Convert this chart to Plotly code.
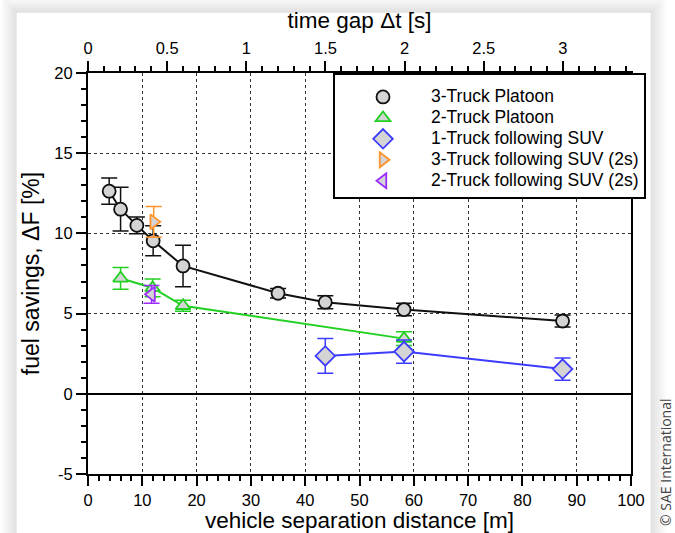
import plotly.graph_objects as go

# ---------------- data ----------------
# 3-Truck Platoon
dist_3truck = [3.9, 6.0, 9.0, 12.0, 17.5, 35.0, 43.7, 58.2, 87.4]
fuel_3truck = [12.63, 11.51, 10.50, 9.54, 7.97, 6.27, 5.71, 5.25, 4.54]
err_3truck = [0.82, 1.36, 0.52, 0.93, 1.29, 0.30, 0.40, 0.39, 0.38]

# 2-Truck Platoon
dist_2truck = [6.0, 11.9, 17.5, 58.2]
fuel_2truck = [7.20, 6.60, 5.49, 3.44]
err_2truck = [0.68, 0.55, 0.35, 0.43]

# 1-Truck following SUV
dist_1suv = [43.7, 58.2, 87.4]
fuel_1suv = [2.36, 2.63, 1.54]
err_1suv = [1.08, 0.73, 0.69]

# 3-Truck following SUV (2s)
dist_3suv = [12.1]
fuel_3suv = [10.72]
err_3suv = [0.96]

# 2-Truck following SUV (2s)
dist_2suv = [11.7]
fuel_2suv = [6.20]
err_2suv = [0.55]

series_names = [
    "3-Truck Platoon",
    "2-Truck Platoon",
    "1-Truck following SUV",
    "3-Truck following SUV (2s)",
    "2-Truck following SUV (2s)",
]

# axis ranges and tick labels
dist_range = [0, 100]
time_range = [0, 3.43]
fuel_range = [-5, 20]
fuel_tickvals = [-5, 0, 5, 10, 15, 20]
fuel_ticktext = ["-5", "0", "5", "10", "15", "20"]

# ---------------- style ----------------
FILL = "#d4d4d4"
BLACK = "#111111"
GREEN = "#22d022"
BLUE = "#3c3cff"
ORANGE = "#ff9228"
PURPLE = "#9a2cff"
FONT = "Liberation Sans, Arial, sans-serif"

W, H = 675, 533
ML, MR, MT, MB = 88, 44, 73, 59
PW, PH = W - ML - MR, H - MT - MB


def px_x(px):
    return (px - ML) / PW


def px_y(py):
    return (H - MB - py) / PH


fig = go.Figure()


def add_series(x, y, e, name, symbol, color, size, line=True):
    if line:
        fig.add_trace(go.Scatter(
            x=x, y=y, mode="lines", line=dict(color=color, width=2),
            showlegend=False, hoverinfo="skip"))
    fig.add_trace(go.Scatter(
        x=x, y=y, mode="markers", name=name,
        marker=dict(symbol=symbol, size=size, color=FILL,
                    line=dict(color=color, width=1.8)),
        error_y=dict(type="data", array=e, visible=True, color=color,
                     thickness=1.5, width=8),
    ))


add_series(dist_3truck, fuel_3truck, err_3truck, series_names[0], "circle", BLACK, 13)
add_series(dist_2truck, fuel_2truck, err_2truck, series_names[1], "triangle-up", GREEN, 13)
add_series(dist_1suv, fuel_1suv, err_1suv, series_names[2], "diamond", BLUE, 15)
add_series(dist_3suv, fuel_3suv, err_3suv, series_names[3], "triangle-right", ORANGE, 13, line=False)
add_series(dist_2suv, fuel_2suv, err_2suv, series_names[4], "triangle-left", PURPLE, 13, line=False)

# larger legend glyphs while keeping compact rows
for tr in fig.data:
    if tr.showlegend is not False and tr.name:
        tr.name = '<span style="font-size:17.5px">' + tr.name + "</span>"

# dummy traces to activate the extra axes (top time axis and minor tick axes)
for xa, ya in [("x2", "y"), ("x3", "y"), ("x4", "y"), ("x", "y2")]:
    fig.add_trace(go.Scatter(x=[None], y=[None], xaxis=xa, yaxis=ya,
                             showlegend=False, hoverinfo="skip"))

axis_common = dict(
    showline=True, linecolor="black", linewidth=2,
    ticks="outside", tickcolor="black", tickwidth=2, ticklen=10,
    tickfont=dict(family=FONT, size=16.5, color="black"),
)
minor_common = dict(
    showline=False, showgrid=False, zeroline=False, showticklabels=False,
    ticks="outside", tickcolor="black", tickwidth=1.5,
)

fig.update_layout(
    width=W, height=H,
    margin=dict(l=ML, r=MR, t=MT, b=MB, autoexpand=False),
    paper_bgcolor="white",
    plot_bgcolor="rgba(0,0,0,0)",
    font=dict(family=FONT, color="black"),
    xaxis=dict(
        range=dist_range, dtick=10, tick0=0,
        showgrid=True, gridcolor="#333333", griddash="dot", gridwidth=1,
        zeroline=False,
        title=dict(text="vehicle separation distance [m]", font=dict(family=FONT, size=22.5), standoff=2),
        **axis_common,
    ),
    xaxis3=dict(overlaying="x", side="bottom", range=dist_range, dtick=2, tick0=0,
                ticklen=6, **minor_common),
    xaxis2=dict(
        overlaying="x", side="top", range=time_range, dtick=0.5, tick0=0,
        showgrid=False, zeroline=False,
        title=dict(text="time gap Δt [s]", font=dict(family=FONT, size=22.5), standoff=5),
        **axis_common,
    ),
    xaxis4=dict(overlaying="x", side="top", range=time_range, dtick=0.1, tick0=0,
                ticklen=6, **minor_common),
    yaxis=dict(
        range=fuel_range, tickmode="array", tickvals=fuel_tickvals, ticktext=fuel_ticktext,
        showgrid=True, gridcolor="#333333", griddash="dot", gridwidth=1,
        zeroline=True, zerolinecolor="black", zerolinewidth=2,
        mirror=True,
        title=dict(text="fuel savings, ΔF [%]", font=dict(family=FONT, size=23), standoff=8),
        **axis_common,
    ),
    yaxis2=dict(overlaying="y", side="left", range=fuel_range, dtick=1, tick0=0,
                ticklen=6, **minor_common),
    legend=dict(
        x=px_x(333), y=1.0, xanchor="left", yanchor="top",
        bgcolor="white", bordercolor="black", borderwidth=2,
        font=dict(family=FONT, size=13.8, color="black"),
        itemwidth=86,
        title=dict(text=" ", font=dict(size=5)),
    ),
    showlegend=True,
)

# panel with soft shadow (page decoration)
shapes = []
x0, y0, x1, y1 = 16.7, 12.7, 650.7, 560
for i in range(10, 0, -1):
    g = 1.6 * i
    shapes.append(dict(
        type="rect", xref="paper", yref="paper", layer="below",
        x0=px_x(x0 - g), x1=px_x(x1 + g), y0=px_y(y1 + g), y1=px_y(y0 - g),
        line=dict(width=0), fillcolor="rgba(0,0,0,0.011)"))
shapes.append(dict(
    type="rect", xref="paper", yref="paper", layer="below",
    x0=px_x(x0), x1=px_x(x1), y0=px_y(y1), y1=px_y(y0),
    line=dict(width=0), fillcolor="white"))
fig.update_layout(shapes=shapes)

fig.add_annotation(
    text="© SAE International", textangle=-90, showarrow=False,
    xref="paper", yref="paper", x=px_x(665), y=px_y(462),
    xanchor="center", yanchor="middle",
    font=dict(family="Open Sans", size=14, color="#444444"),
)

fig.write_html("out.html")
